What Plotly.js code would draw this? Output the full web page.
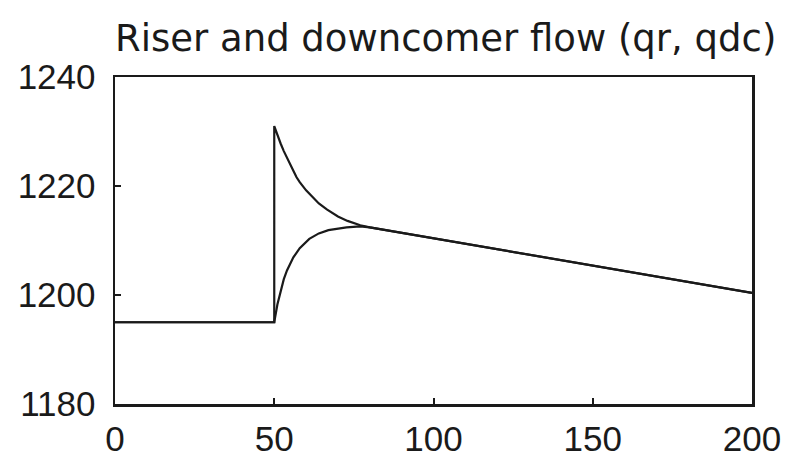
<!DOCTYPE html>
<html>
<head>
<meta charset="utf-8">
<script src="https://cdn.plot.ly/plotly-3.0.1.min.js"></script>
<style>html,body{margin:0;padding:0;background:#fff;}#chart{width:792px;height:456px;}</style>
</head>
<body>
<div id="chart"></div>
<script>
// Time (s) and flows
var tRiser = [0, 50, 50, 51, 52, 53, 54, 55, 56, 57, 58, 60, 62, 64, 66.5, 70, 73, 77, 80, 83, 100, 120, 140, 160, 180, 200];
var qr =     [1195, 1195, 1231, 1229.3, 1227.8, 1226.4, 1225.1, 1223.9, 1222.8, 1221.6, 1220.7, 1219.2, 1217.9, 1216.8, 1215.7, 1214.4, 1213.6, 1212.8, 1212.4, 1212.1, 1210.4, 1208.4, 1206.4, 1204.4, 1202.4, 1200.4];
var tDown =  [0, 50, 51, 52, 53, 54, 56, 58, 61, 64, 67, 72.7, 77, 80, 83, 100, 120, 140, 160, 180, 200];
var qdc =    [1195, 1195, 1198.3, 1200.9, 1202.9, 1204.5, 1206.9, 1208.6, 1210.3, 1211.3, 1211.9, 1212.4, 1212.6, 1212.4, 1212.1, 1210.4, 1208.4, 1206.4, 1204.4, 1202.4, 1200.4];
var xTicks = [0, 50, 100, 150, 200];
var yTicks = [1180, 1200, 1220, 1240];
var titleText = 'Riser and downcomer flow (qr, qdc)';

var lineStyle = {color: '#1a1a1a', width: 2.2};
var data = [
  {x: tRiser, y: qr, mode: 'lines', line: lineStyle, name: 'qr', hoverinfo: 'skip'},
  {x: tDown, y: qdc, mode: 'lines', line: lineStyle, name: 'qdc', hoverinfo: 'skip'}
];
var axisCommon = {
  showgrid: false, zeroline: false, showline: true, mirror: true,
  linecolor: '#1a1a1a', linewidth: 2.5,
  ticks: 'inside', ticklen: 6, tickwidth: 2, tickcolor: '#1a1a1a',
  tickfont: {family: 'Liberation Sans, Arial, sans-serif', size: 35, color: '#1a1a1a'}
};
var layout = {
  width: 792, height: 456,
  margin: {l: 115, r: 40, t: 77, b: 52},
  paper_bgcolor: '#fff', plot_bgcolor: '#fff',
  showlegend: false,
  annotations: [{
    text: titleText, showarrow: false, xref: 'paper', yref: 'paper',
    x: -0.003, xanchor: 'left', y: 1.119, yanchor: 'middle',
    font: {family: 'DejaVu Sans, sans-serif', size: 37, color: '#1a1a1a'}
  }],
  xaxis: Object.assign({}, axisCommon, {range: [0, 200], tickvals: xTicks, ticktext: xTicks.map(String), ticklabelstandoff: 2}),
  yaxis: Object.assign({}, axisCommon, {range: [1180, 1240], tickvals: yTicks, ticktext: yTicks.map(String), ticklabelstandoff: 10})
};
Plotly.newPlot('chart', data, layout, {staticPlot: true, displayModeBar: false});
</script>
</body>
</html>
